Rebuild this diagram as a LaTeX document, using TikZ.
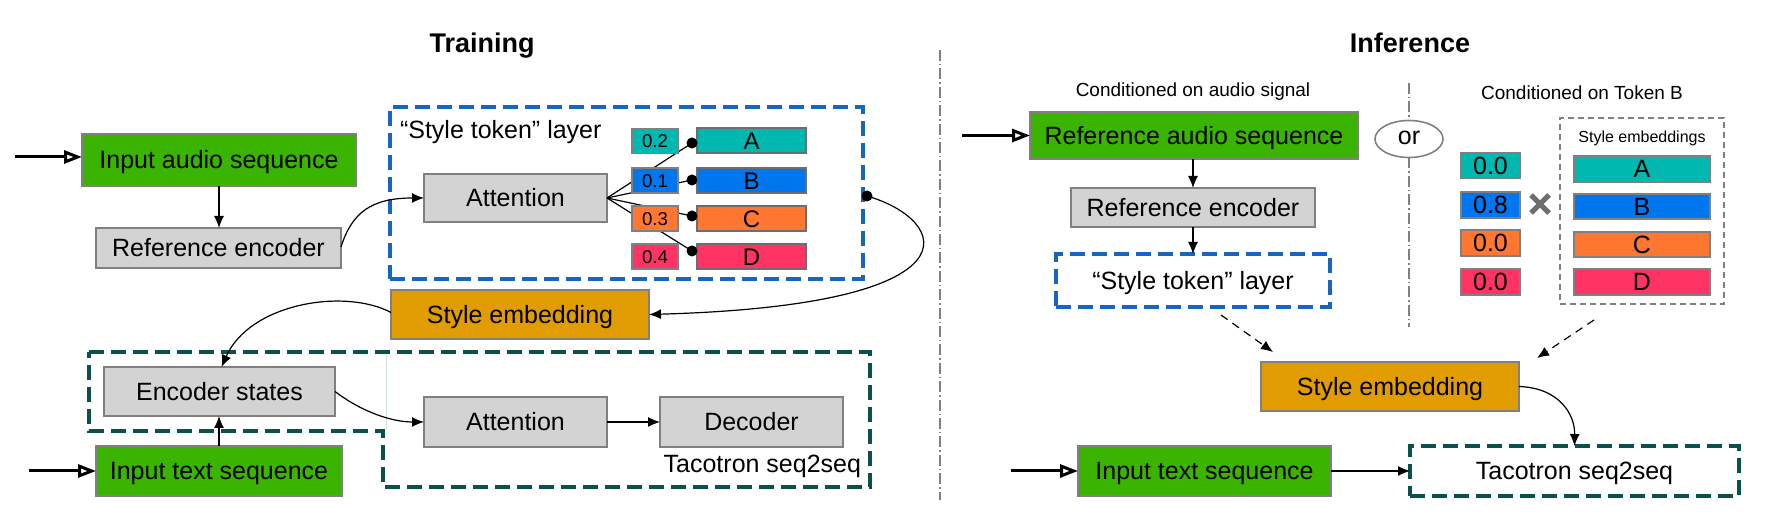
\documentclass[tikz,border=0pt]{standalone}
\usepackage{fontspec}
\setmainfont{Liberation Sans}
\usetikzlibrary{arrows.meta,calc,shapes.geometric}
\definecolor{cgreen}{RGB}{58,180,0}
\definecolor{cgray}{RGB}{211,211,211}
\definecolor{cborder}{RGB}{128,128,128}
\definecolor{corange}{RGB}{224,156,0}
\definecolor{ctealA}{RGB}{0,184,176}
\definecolor{cblueB}{RGB}{0,119,238}
\definecolor{corC}{RGB}{255,119,48}
\definecolor{cpinkD}{RGB}{255,52,100}
\definecolor{cdashblue}{RGB}{20,102,192}
\definecolor{cdashgreen}{RGB}{10,80,76}
\definecolor{xgray}{RGB}{110,110,110}
\newcommand\fmain{\fontsize{12.5}{15}\selectfont}
\newcommand\fsmallcap{\fontsize{9.5}{11}\selectfont}
\newcommand\ftinycap{\fontsize{8}{10}\selectfont}
\newcommand\fweight{\fontsize{9.3}{11}\selectfont}
\newcommand\ftok{\fontsize{12}{14}\selectfont}
\newcommand\ftitle{\fontsize{13.5}{16}\selectfont\bfseries}
\begin{document}
\begin{tikzpicture}[x=0.5pt,y=-0.5pt,
  sz/.style 2 args={minimum width=#1pt, minimum height=#2pt},
  base/.style={inner sep=0pt, outer sep=0pt, font=\fmain, text=black, text height=8.95pt, text depth=0pt},
  gbox/.style={base, draw=cborder, line width=0.8pt, fill=cgray},
  greenbox/.style={gbox, fill=cgreen},
  orbox/.style={gbox, fill=corange},
  wbox/.style={gbox, font=\fweight, text height=6.66pt},
  wbox2/.style={gbox, font=\fmain},
  tokbox/.style={base, draw=cborder!85!black, line width=1pt, font=\ftok, text height=8.6pt},
  tokbox2/.style={base, draw=cborder, line width=0.8pt, font=\fmain},
  arr/.style={-{Latex[length=6pt,width=5pt]}, line width=0.6pt},
  inarr/.style={-{Triangle[open,length=9pt,width=6.5pt]}, line width=1.5pt},
  bluedash/.style={base, draw=cdashblue, line width=1.6pt, dash pattern=on 7.5pt off 3.5pt},
  greendash/.style={draw=cdashgreen, line width=1.6pt, dash pattern=on 7.5pt off 3.5pt},
  greydash/.style={base, draw=cborder, line width=0.6pt, dash pattern=on 3pt off 2pt},
  dashdotline/.style={draw=gray, line width=0.6pt, dash pattern=on 5.5pt off 1.5pt on 0.7pt off 1.5pt},
  dasharr/.style={-{Latex[length=6pt,width=5pt]}, line width=0.6pt, dash pattern=on 4pt off 3pt},
  titletext/.style={base, font=\ftitle, text height=9.67pt},
  captext/.style={base, font=\fsmallcap, text height=6.8pt},
]
\useasboundingbox (0,0) rectangle (1784,528);

% ================= TRAINING =================
\node[titletext] (ttrain) at (482,43) {Training};

\node[greenbox, sz={137}{26}] (inaudio) at (219,160) {Input audio sequence};
\coordinate (inaudioin) at (15,157);
\draw[inarr] (inaudioin) -- (inaudioin -| inaudio.west);

\node[gbox, sz={122.5}{20}] (refenc) at (218.5,248) {Reference encoder};
\draw[arr] (inaudio.south) -- (inaudio.south |- refenc.north);

% style token layer
\node[bluedash, sz={236.5}{86}] (stl1) at (626.5,193) {};
\node[base, anchor=base west] (stl1lab) at (400,139) {``Style token'' layer};

\node[gbox, sz={91.5}{24}] (attn1) at (515.5,198) {Attention};
\draw[arr] ([yshift=0.5pt]refenc.east) .. controls (352,212) and (372,198) .. (attn1.west);

% tokens
\node[tokbox, fill=ctealA, sz={54.5}{12.5}] (tA) at (751.5,141) {A};
\node[tokbox, fill=cblueB, sz={54.5}{12.5}] (tB) at (751.5,180.5) {B};
\node[tokbox, fill=corC, sz={54.5}{12.5}] (tC) at (751.5,218.5) {C};
\node[tokbox, fill=cpinkD, sz={54.5}{12.5}] (tD) at (751.5,256.5) {D};

\coordinate (dA) at (692,143);
\coordinate (dB) at (692,180);
\coordinate (dC) at (692,216);
\coordinate (dD) at (692,251);
\draw[line width=0.6pt] (attn1.east) -- (dA);
\draw[line width=0.6pt] (attn1.east) -- (dB);
\draw[line width=0.6pt] (attn1.east) -- (dC);
\draw[line width=0.6pt] (attn1.east) -- (dD);

\node[wbox, fill=ctealA, sz={23}{12.5}] (w1) at (655,141) {0.2};
\node[wbox, fill=cblueB, sz={23}{12.5}] (w2) at (655,180.5) {0.1};
\node[wbox, fill=corC, sz={23}{12.5}] (w3) at (655,218.5) {0.3};
\node[wbox, fill=cpinkD, sz={23}{12.5}] (w4) at (655,256.5) {0.4};

\fill (dA) circle[radius=2.75pt];
\fill (dB) circle[radius=2.75pt];
\fill (dC) circle[radius=2.75pt];
\fill (dD) circle[radius=2.75pt];

\coordinate (stlout) at (867,196);
\fill (stlout) circle[radius=2.75pt];

\node[orbox, sz={129}{24.5}] (style1) at (520,314.5) {Style embedding};
\draw[arr] (stlout) .. controls (950,220) and (985,305) .. (style1.east);

% tacotron region
\draw[greendash] (89,352) -- (870,352) -- (870,487) -- (383,487) -- (383,431) -- (89,431) -- cycle;
\draw[cdashgreen!18, line width=0.5pt] (386,354) -- (386,430);

\node[gbox, sz={115.5}{24.5}] (encst) at (219.5,391.5) {Encoder states};
\draw[arr] ([yshift=1pt]style1.west) .. controls (345,288) and (250,303) .. ([xshift=1pt]encst.north);

\node[gbox, sz={91.5}{25}] (attn2) at (515.5,422) {Attention};
\node[gbox, sz={91.5}{25}] (dec) at (751.5,422) {Decoder};
\draw[arr] (encst.east) .. controls (362,412) and (392,422) .. (attn2.west);
\draw[arr] (attn2.east) -- (dec.west);

\node[greenbox, sz={123}{25}] (intext) at (219,471) {Input text sequence};
\coordinate (intextin) at (29,471);
\draw[inarr] (intextin) -- (intext.west);
\draw[arr] (intext.north) -- (intext.north |- encst.south);

\node[base, anchor=base east] (tacolab) at (861,473) {Tacotron seq2seq};

% divider
\coordinate (divtop) at (940,50);
\coordinate (divbot) at (940,500);
\draw[dashdotline] (divtop) -- (divbot);

% ================= INFERENCE =================
\node[titletext] (tinf) at (1410,43) {Inference};

\node[captext] (cond1) at (1193,90) {Conditioned on audio signal};
\node[greenbox, sz={164}{23.5}] (refaudio) at (1194,135.5) {Reference audio sequence};
\coordinate (refaudioin) at (962,135.5);
\draw[inarr] (refaudioin) -- (refaudio.west);

\node[gbox, sz={122}{19.5}] (refenc2) at (1193,207.5) {Reference encoder};
\draw[arr] (refenc2.north |- refaudio.south) -- (refenc2.north);

\node[bluedash, sz={137}{26.5}] (stl2) at (1193,280.5) {``Style token'' layer};
\draw[arr] (refenc2.south) -- (stl2.north);

% or
\node[base, draw=cborder, line width=0.8pt, ellipse, minimum width=34pt, minimum height=18.5pt, text height=6pt] (or) at (1409,139) {or};
\coordinate (ortop) at (1409,83);
\coordinate (orbot) at (1409,327);
\draw[dashdotline] (ortop) -- (or.north);
\draw[dashdotline] (or.south) -- (orbot);

\node[captext] (cond2) at (1582,93) {Conditioned on Token B};

\node[greydash, sz={82}{93}] (gbox) at (1642,211) {};
\node[base, font=\ftinycap, text height=5.73pt] (selab) at (1642,137) {Style embeddings};

\node[tokbox2, fill=ctealA, sz={68}{12.75}] (iA) at (1642,169) {A};
\node[tokbox2, fill=cblueB, sz={68}{12.75}] (iB) at (1642,206.5) {B};
\node[tokbox2, fill=corC, sz={68}{12.75}] (iC) at (1642,244.5) {C};
\node[tokbox2, fill=cpinkD, sz={68}{12.75}] (iD) at (1642,282) {D};

\node[wbox2, fill=ctealA, sz={29.5}{12.75}] (v1) at (1490.5,165.5) {0.0};
\node[wbox2, fill=cblueB, sz={29.5}{12.75}] (v2) at (1490.5,205) {0.8};
\node[wbox2, fill=corC, sz={29.5}{12.75}] (v3) at (1490.5,243) {0.0};
\node[wbox2, fill=cpinkD, sz={29.5}{12.75}] (v4) at (1490.5,282) {0.0};

\draw[xgray, line width=2.6pt] (1531,195) -- (1549,213) (1531,213) -- (1549,195);

\node[orbox, sz={129}{24.5}] (style2) at (1390,386.5) {Style embedding};
\draw[dasharr] ([xshift=14pt,yshift=-4pt]stl2.south) -- ([xshift=6pt,yshift=5pt]style2.north west);
\draw[dasharr] ([xshift=-24pt,yshift=-8pt]gbox.south) -- ([xshift=9pt,yshift=2pt]style2.north east);

\node[greenbox, sz={126.5}{25}] (intext2) at (1204.5,471) {Input text sequence};
\coordinate (intext2in) at (1011,471);
\draw[inarr] (intext2in) -- (intext2.west);

\node[base, greendash, sz={164.5}{25}] (taco) at (1574.5,471) {Tacotron seq2seq};
\draw[arr] (intext2.east) -- (taco.west);
\draw[arr] (style2.east) .. controls (1560,388) and (1575,415) .. (taco.north);

\end{tikzpicture}
\end{document}
